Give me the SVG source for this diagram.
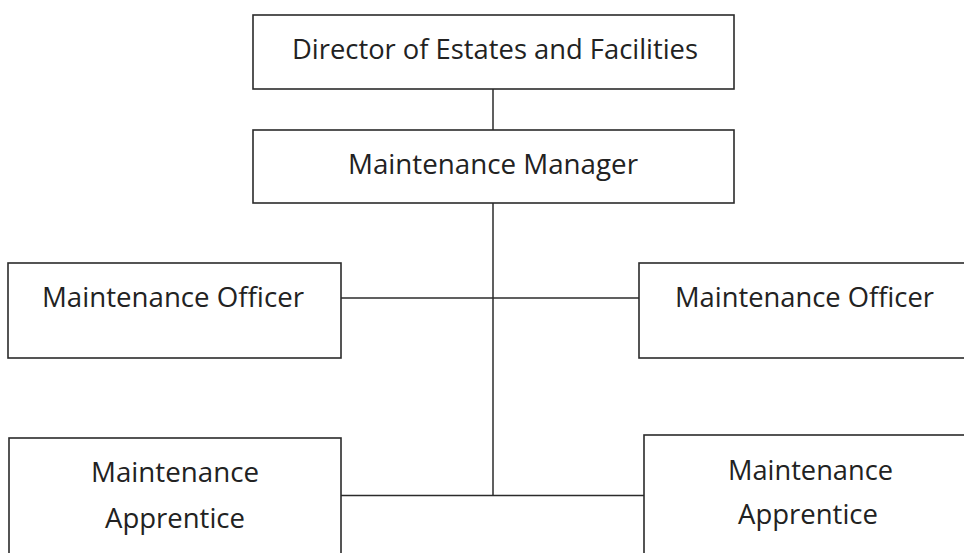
<svg xmlns="http://www.w3.org/2000/svg" width="964" height="553" viewBox="0 0 964 553">
<style>
.box{fill:#fff;stroke:#2b2b2b;stroke-width:1.6}
.ln{stroke:#2b2b2b;stroke-width:1.5;fill:none}
text{font-family:"Open Sans","Liberation Sans",sans-serif;font-size:27px;fill:#222;text-anchor:middle}
</style>
<rect width="964" height="553" fill="#fff"/>
<g id="connectors">
<line class="ln" x1="493" y1="89" x2="493" y2="130"/>
<line class="ln" x1="493" y1="203" x2="493" y2="495.5"/>
<line class="ln" x1="341" y1="298" x2="639" y2="298"/>
<line class="ln" x1="341" y1="495.5" x2="644" y2="495.5"/>
</g>
<g id="director">
<rect class="box" x="253" y="15" width="481" height="74"/>
<text x="495" y="59" textLength="406" lengthAdjust="spacingAndGlyphs">Director of Estates and Facilities</text>
</g>
<g id="manager">
<rect class="box" x="253" y="130" width="481" height="73"/>
<text x="493" y="174" textLength="290" lengthAdjust="spacingAndGlyphs">Maintenance Manager</text>
</g>
<g id="officer-left">
<rect class="box" x="8" y="263" width="333" height="95"/>
<text x="173" y="307" textLength="262" lengthAdjust="spacingAndGlyphs">Maintenance Officer</text>
</g>
<g id="officer-right">
<rect class="box" x="639" y="263" width="340" height="95"/>
<text x="804.5" y="307" textLength="259" lengthAdjust="spacingAndGlyphs">Maintenance Officer</text>
</g>
<g id="apprentice-left">
<rect class="box" x="9" y="438" width="332" height="130"/>
<text x="175" y="482" textLength="168" lengthAdjust="spacingAndGlyphs">Maintenance</text>
<text x="175" y="528" textLength="140" lengthAdjust="spacingAndGlyphs">Apprentice</text>
</g>
<g id="apprentice-right">
<rect class="box" x="644" y="435" width="340" height="130"/>
<text x="810.5" y="480" textLength="165" lengthAdjust="spacingAndGlyphs">Maintenance</text>
<text x="808" y="524" textLength="140" lengthAdjust="spacingAndGlyphs">Apprentice</text>
</g>
</svg>
